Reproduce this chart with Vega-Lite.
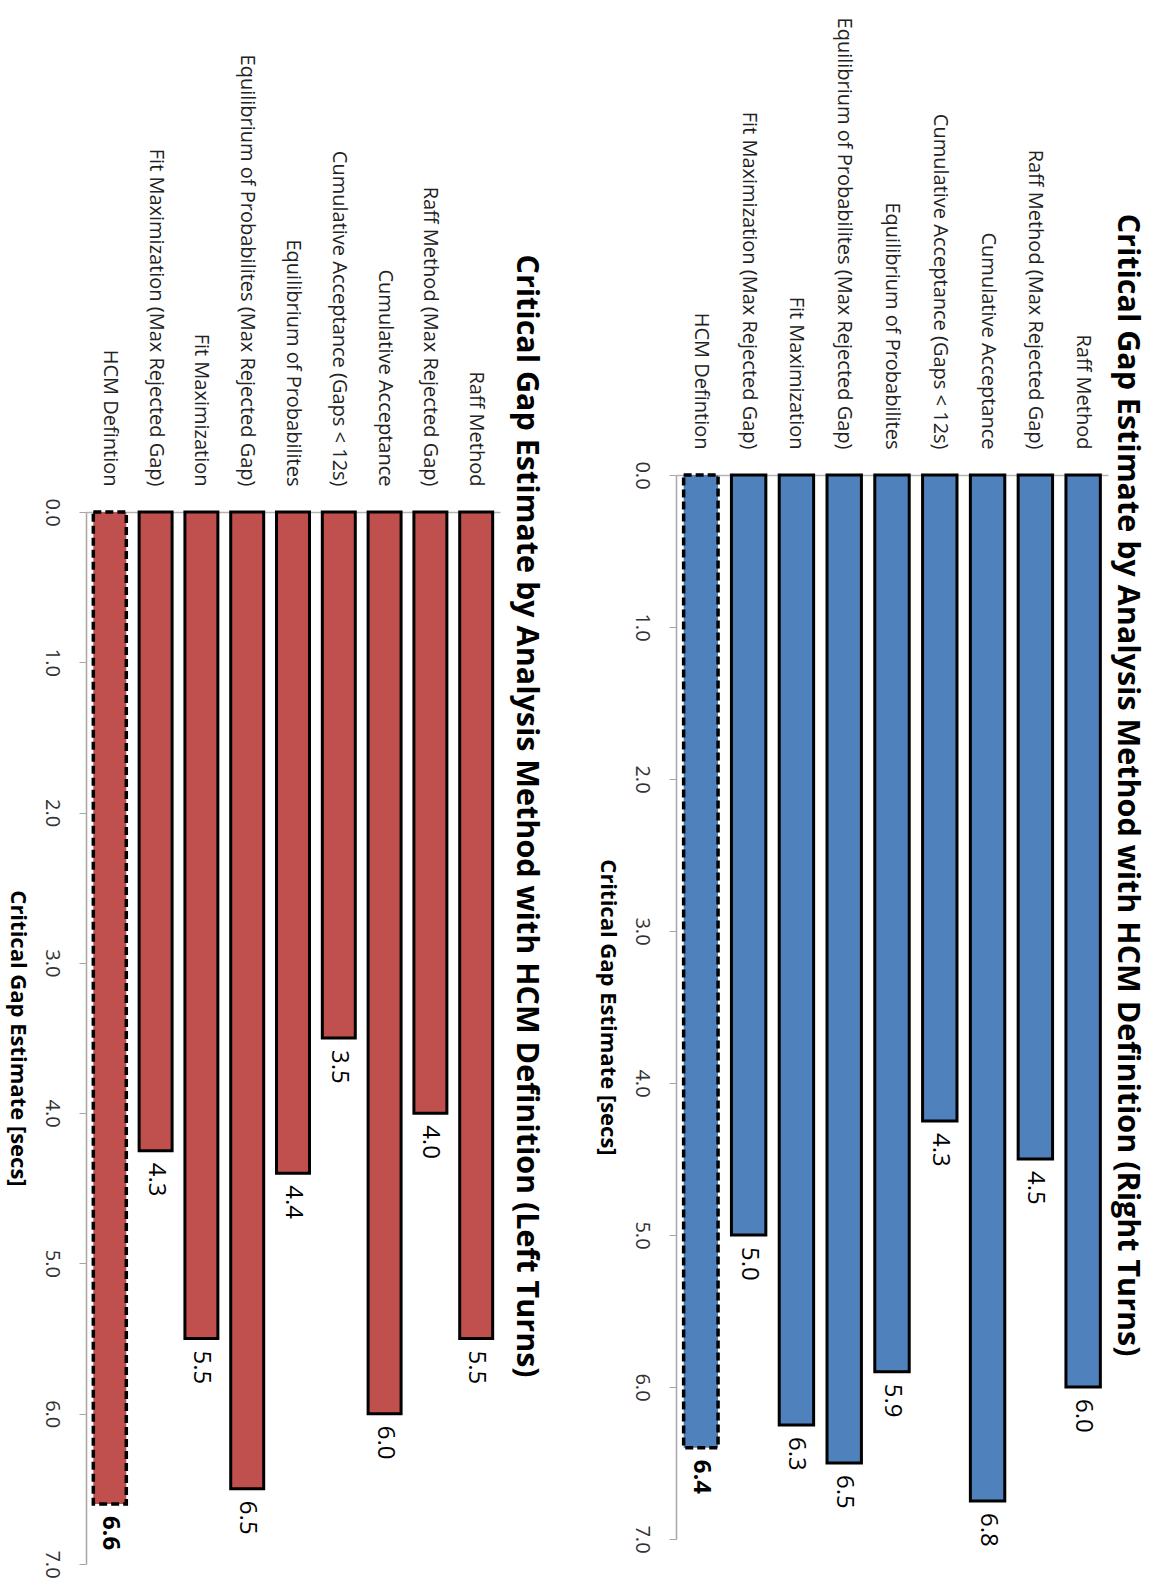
{
  "$schema": "https://vega.github.io/schema/vega-lite/v6.json",
  "padding": {"left": 6, "top": 16, "right": 0, "bottom": 0},
  "spacing": 55,
  "background": "white",
  "config": {"view": {"stroke": null}, "font": "Open Sans"},
  "datasets": {
    "left": [
      {"method": "Raff Method", "estimate": 5.5},
      {"method": "Raff Method (Max Rejected Gap)", "estimate": 4.0},
      {"method": "Cumulative Acceptance", "estimate": 6.0},
      {"method": "Cumulative Acceptance (Gaps < 12s)", "estimate": 3.5},
      {"method": "Equilibrium of Probabilites", "estimate": 4.4},
      {"method": "Equilibrium of Probabilites (Max Rejected Gap)", "estimate": 6.5},
      {"method": "Fit Maximization", "estimate": 5.5},
      {"method": "Fit Maximization (Max Rejected Gap)", "estimate": 4.25},
      {"method": "HCM Defintion", "estimate": 6.6}
    ],
    "right": [
      {"method": "Raff Method", "estimate": 6.0},
      {"method": "Raff Method (Max Rejected Gap)", "estimate": 4.5},
      {"method": "Cumulative Acceptance", "estimate": 6.75},
      {"method": "Cumulative Acceptance (Gaps < 12s)", "estimate": 4.25},
      {"method": "Equilibrium of Probabilites", "estimate": 5.9},
      {"method": "Equilibrium of Probabilites (Max Rejected Gap)", "estimate": 6.5},
      {"method": "Fit Maximization", "estimate": 6.25},
      {"method": "Fit Maximization (Max Rejected Gap)", "estimate": 5.0},
      {"method": "HCM Defintion", "estimate": 6.4}
    ],
    "none": []
  },
  "hconcat": [
    {
      "spacing": 0,
      "align": "none",
      "vconcat": [
        {
          "width": 10,
          "height": 38,
          "data": {"name": "none"},
          "mark": {"type": "point", "opacity": 0},
          "encoding": {}
        },
        {
          "width": 414,
          "height": 1052,
          "title": {"text": "Critical Gap Estimate by Analysis Method with HCM Definition (Left Turns)", "orient": "right", "frame": "bounds", "anchor": "middle", "fontSize": 30.5, "fontWeight": "bold", "font": "Open Sans", "color": "#000", "offset": 10},
          "data": {"name": "left"},
          "encoding": {
            "x": {
              "field": "method", "type": "nominal",
              "sort": ["HCM Defintion", "Fit Maximization (Max Rejected Gap)", "Fit Maximization", "Equilibrium of Probabilites (Max Rejected Gap)", "Equilibrium of Probabilites", "Cumulative Acceptance (Gaps < 12s)", "Cumulative Acceptance", "Raff Method (Max Rejected Gap)", "Raff Method"],
              "scale": {"paddingInner": 0.28, "paddingOuter": 0.16},
              "axis": {"orient": "top", "title": null, "labelAngle": 90, "labelAlign": "right", "labelBaseline": "middle", "ticks": false, "labelPadding": 26, "labelFontSize": 20, "labelColor": "#222", "labelLimit": 1000, "labelFont": "Open Sans", "domainColor": "#b3b3b3", "domainWidth": 1.5}
            },
            "y": {
              "field": "estimate", "type": "quantitative",
              "scale": {"domain": [0, 7], "reverse": true, "nice": false},
              "axis": {"orient": "left", "values": [0, 1, 2, 3, 4, 5, 6, 7], "format": ".1f", "grid": false, "tickSize": 7, "tickColor": "#a6a6a6", "domainColor": "#a6a6a6", "domainWidth": 1.5, "labelAngle": 90, "labelAlign": "center", "labelBaseline": "top", "labelPadding": 18, "labelFontSize": 20, "labelColor": "#333", "labelFont": "Open Sans", "title": "Critical Gap Estimate [secs]", "titleAngle": 90, "titleBaseline": "top", "titleFontSize": 22, "titleFontWeight": "bold", "titleFont": "Open Sans", "titleColor": "#000", "titlePadding": 14}
            }
          },
          "layer": [
            {"transform": [{"filter": "datum.method !== 'HCM Defintion'"}], "mark": {"type": "bar", "fill": "#C0504D", "stroke": "#000", "strokeWidth": 3}},
            {"transform": [{"filter": "datum.method === 'HCM Defintion'"}], "mark": {"type": "bar", "fill": "#C0504D", "stroke": "#000", "strokeWidth": 3.5, "strokeDash": [8, 4]}},
            {"transform": [{"filter": "datum.method !== 'HCM Defintion'"}], "mark": {"type": "text", "angle": 90, "align": "left", "baseline": "middle", "dx": 12, "fontSize": 24, "color": "#000", "font": "Open Sans"}, "encoding": {"text": {"field": "estimate", "type": "quantitative", "format": ".1f"}}},
            {"transform": [{"filter": "datum.method === 'HCM Defintion'"}], "mark": {"type": "text", "angle": 90, "align": "left", "baseline": "middle", "dx": 12, "fontSize": 24, "fontWeight": "bold", "color": "#000", "font": "Open Sans"}, "encoding": {"text": {"field": "estimate", "type": "quantitative", "format": ".1f"}}}
          ]
        }
      ]
    },
    {
      "spacing": 0,
      "align": "none",
      "vconcat": [
        {
          "width": 10,
          "height": 1,
          "data": {"name": "none"},
          "mark": {"type": "point", "opacity": 0},
          "encoding": {}
        },
        {
          "width": 432,
          "height": 1064,
          "title": {"text": "Critical Gap Estimate by Analysis Method with HCM Definition (Right Turns)", "orient": "right", "frame": "bounds", "anchor": "middle", "fontSize": 30.5, "fontWeight": "bold", "font": "Open Sans", "color": "#000", "offset": 3},
          "data": {"name": "right"},
          "encoding": {
            "x": {
              "field": "method", "type": "nominal",
              "sort": ["HCM Defintion", "Fit Maximization (Max Rejected Gap)", "Fit Maximization", "Equilibrium of Probabilites (Max Rejected Gap)", "Equilibrium of Probabilites", "Cumulative Acceptance (Gaps < 12s)", "Cumulative Acceptance", "Raff Method (Max Rejected Gap)", "Raff Method"],
              "scale": {"paddingInner": 0.28, "paddingOuter": 0.16},
              "axis": {"orient": "top", "title": null, "labelAngle": 90, "labelAlign": "right", "labelBaseline": "middle", "ticks": false, "labelPadding": 26, "labelFontSize": 20, "labelColor": "#222", "labelLimit": 1000, "labelFont": "Open Sans", "domainColor": "#b3b3b3", "domainWidth": 1.5}
            },
            "y": {
              "field": "estimate", "type": "quantitative",
              "scale": {"domain": [0, 7], "reverse": true, "nice": false},
              "axis": {"orient": "left", "values": [0, 1, 2, 3, 4, 5, 6, 7], "format": ".1f", "grid": false, "tickSize": 7, "tickColor": "#a6a6a6", "domainColor": "#a6a6a6", "domainWidth": 1.5, "labelAngle": 90, "labelAlign": "center", "labelBaseline": "top", "labelPadding": 18, "labelFontSize": 20, "labelColor": "#333", "labelFont": "Open Sans", "title": "Critical Gap Estimate [secs]", "titleAngle": 90, "titleBaseline": "top", "titleFontSize": 22, "titleFontWeight": "bold", "titleFont": "Open Sans", "titleColor": "#000", "titlePadding": 14}
            }
          },
          "layer": [
            {"transform": [{"filter": "datum.method !== 'HCM Defintion'"}], "mark": {"type": "bar", "fill": "#4F81BD", "stroke": "#000", "strokeWidth": 3}},
            {"transform": [{"filter": "datum.method === 'HCM Defintion'"}], "mark": {"type": "bar", "fill": "#4F81BD", "stroke": "#000", "strokeWidth": 3.5, "strokeDash": [8, 4]}},
            {"transform": [{"filter": "datum.method !== 'HCM Defintion'"}], "mark": {"type": "text", "angle": 90, "align": "left", "baseline": "middle", "dx": 12, "fontSize": 24, "color": "#000", "font": "Open Sans"}, "encoding": {"text": {"field": "estimate", "type": "quantitative", "format": ".1f"}}},
            {"transform": [{"filter": "datum.method === 'HCM Defintion'"}], "mark": {"type": "text", "angle": 90, "align": "left", "baseline": "middle", "dx": 12, "fontSize": 24, "fontWeight": "bold", "color": "#000", "font": "Open Sans"}, "encoding": {"text": {"field": "estimate", "type": "quantitative", "format": ".1f"}}}
          ]
        }
      ]
    }
  ]
}
